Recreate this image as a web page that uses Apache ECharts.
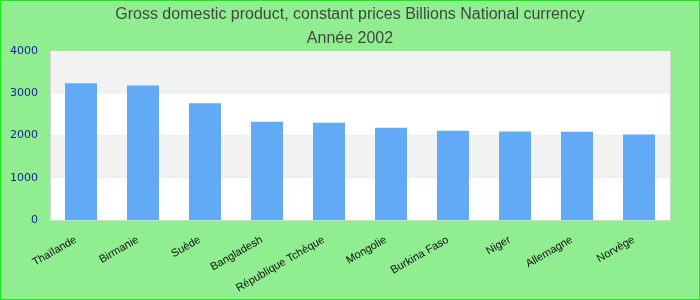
<!DOCTYPE html>
<html>
<head>
<meta charset="utf-8">
<script src="https://cdn.jsdelivr.net/npm/echarts@6/dist/echarts.min.js"></script>
<style>
  html, body { margin: 0; padding: 0; }
  #chart { width: 700px; height: 300px; box-sizing: border-box; border: 1px solid #11ee11; background: #90ee90; }
</style>
</head>
<body>
<div id="chart"></div>
<script>
// pays et valeurs (milliards, monnaie nationale)
var countries = ['Thaïlande', 'Birmanie', 'Suède', 'Bangladesh', 'République Tchèque', 'Mongolie', 'Burkina Faso', 'Niger', 'Allemagne', 'Norvège']
var gdpValues = [3235, 3186, 2762, 2323, 2300, 2185, 2115, 2092, 2090, 2023]
var yTicks = [0, 1000, 2000, 3000, 4000]

var borderLine = { show: true, lineStyle: { color: '#d6d6d6', width: 1 } }

var chart = echarts.init(document.getElementById('chart'))
chart.setOption({
  animation: false,
  backgroundColor: '#90ee90',
  title: {
    text: 'Gross domestic product, constant prices Billions National currency\nAnnée 2002',
    left: 'center',
    top: -3,
    textStyle: {
      color: '#444',
      fontSize: 16,
      fontWeight: 'normal',
      fontFamily: 'Liberation Sans',
      lineHeight: 24
    }
  },
  grid: {
    left: 49,
    right: 29,
    top: 50,
    bottom: 79
  },
  xAxis: [{
    type: 'category',
    data: countries,
    axisLine: borderLine,
    axisTick: { show: false },
    axisLabel: {
      rotate: 30,
      interval: 0,
      margin: 16,
      padding: [0, 6, 0, 0],
      color: '#111',
      fontSize: 11,
      fontFamily: 'Liberation Sans'
    }
  }, {
    type: 'category',
    position: 'top',
    data: countries,
    axisLine: borderLine,
    axisTick: { show: false },
    axisLabel: { show: false }
  }],
  yAxis: [{
    type: 'value',
    min: yTicks[0],
    max: yTicks[yTicks.length - 1],
    interval: 1000,
    axisLine: borderLine,
    axisTick: { show: false },
    splitLine: { show: false },
    splitArea: {
      show: true,
      areaStyle: { color: ['#ffffff', '#f2f2f2'] }
    },
    axisLabel: {
      color: '#1a1a9a',
      fontSize: 11,
      fontFamily: 'DejaVu Sans',
      margin: 12,
      formatter: function (v) { return String(v) }
    }
  }, {
    type: 'value',
    position: 'right',
    min: yTicks[0],
    max: yTicks[yTicks.length - 1],
    interval: 1000,
    axisLine: borderLine,
    axisTick: { show: false },
    splitLine: { show: false },
    axisLabel: { show: false }
  }],
  series: [{
    type: 'bar',
    data: gdpValues,
    barWidth: 32,
    itemStyle: { color: '#62aaf5' }
  }]
})
</script>
</body>
</html>
